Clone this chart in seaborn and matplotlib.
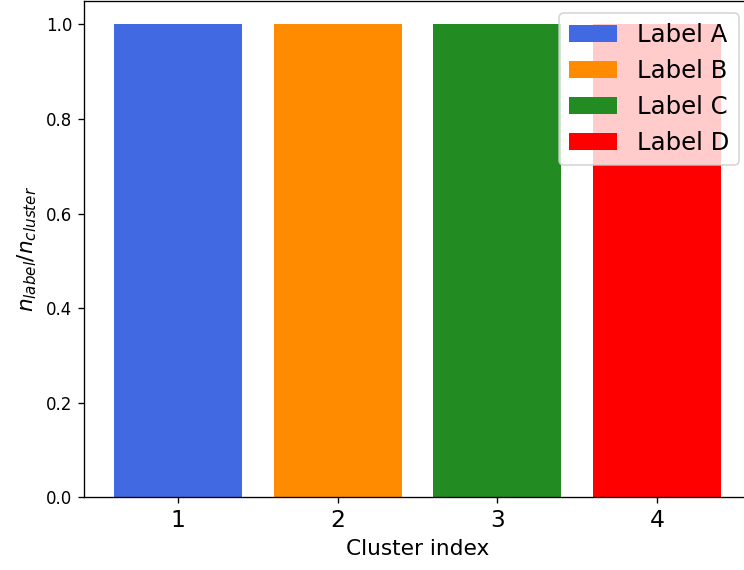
import matplotlib
matplotlib.use("Agg")
import matplotlib.pyplot as plt
import seaborn as sns
import pandas as pd

# Fraction of each label inside each cluster
cluster_index = [1, 2, 3, 4]
label_names = ["Label A", "Label B", "Label C", "Label D"]
label_fraction = [1.0, 1.0, 1.0, 1.0]
bar_colors = ["royalblue", "darkorange", "forestgreen", "red"]

df = pd.DataFrame({
    "cluster": cluster_index,
    "label": label_names,
    "fraction": label_fraction,
})

fig = plt.figure(figsize=(6.2, 4.75), dpi=120)
ax = fig.add_axes([0.1129, 0.1272, 0.8965, 0.8715])

sns.barplot(
    data=df, x="cluster", y="fraction", hue="label",
    palette=bar_colors, saturation=1, width=0.8, ax=ax,
)

ax.set_xlim(-0.59, 3.59)
ax.set_ylim(0, 1.05)
ax.set_xlabel("Cluster index", fontsize=13)
ax.set_ylabel(r"$n_{label}/n_{cluster}$", fontsize=13)
ax.tick_params(axis="x", labelsize=14)
ax.tick_params(axis="y", labelsize=10)
ax.legend(loc="upper right", fontsize=14.6)

fig.savefig("out.png", dpi=120)
